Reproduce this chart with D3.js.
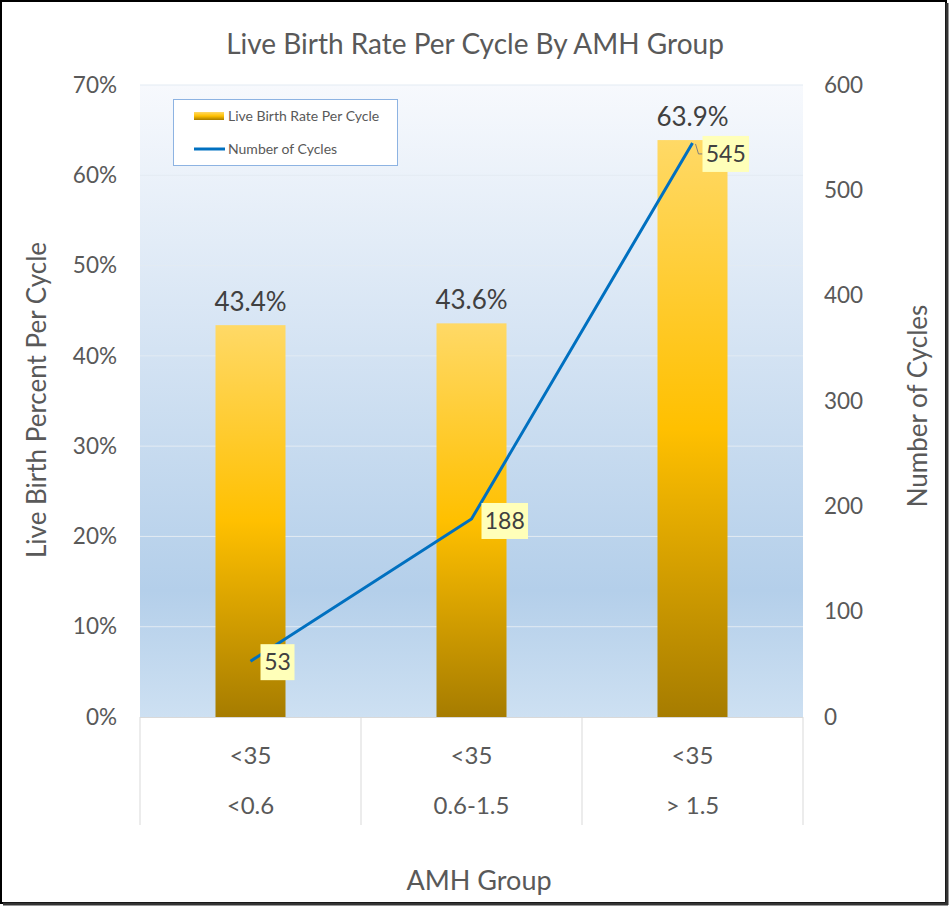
<!DOCTYPE html>
<html><head><meta charset="utf-8">
<script src="https://cdn.jsdelivr.net/npm/d3@7"></script>
<style>body{margin:0;background:#fff}svg{display:block}text{font-family:Lato,"Open Sans",sans-serif}</style>
</head><body><svg id="c" width="950" height="907"></svg>
<script>
const ageGroups = ["<35", "<35", "<35"];
const amhGroups = ["<0.6", "0.6-1.5", "> 1.5"];
const liveBirthRate = [43.4, 43.6, 63.9];
const numCycles = [53, 188, 545];
const leftTicks = [0,10,20,30,40,50,60,70];
const rightTicks = [0,100,200,300,400,500,600];

const svg = d3.select("#c");
const W = 950, H = 907;
const m = {l:140, r:803, t:85, b:717};
const grey = "#595959";

// frame
svg.append("rect").attr("x",1).attr("y",1).attr("width",W-5).attr("height",H-5).attr("fill","#fff").attr("stroke","#000").attr("stroke-width",2);
svg.append("line").attr("x1",W-3).attr("x2",W-3).attr("y1",3).attr("y2",H-2).attr("stroke","#333").attr("stroke-width",3);
svg.append("line").attr("x1",3).attr("x2",W-2).attr("y1",H-3).attr("y2",H-3).attr("stroke","#333").attr("stroke-width",3);

const defs = svg.append("defs");
const bg = defs.append("linearGradient").attr("id","bg").attr("x1",0).attr("x2",0).attr("y1",0).attr("y2",1);
bg.append("stop").attr("offset","0%").attr("stop-color","#f7f9fd");
bg.append("stop").attr("offset","80%").attr("stop-color","#b4cfea");
bg.append("stop").attr("offset","100%").attr("stop-color","#cde0f2");
const bgr = defs.append("linearGradient").attr("id","bar").attr("x1",0).attr("x2",0).attr("y1",0).attr("y2",1);
bgr.append("stop").attr("offset","0%").attr("stop-color","#ffd966");
bgr.append("stop").attr("offset","50%").attr("stop-color","#ffc000");
bgr.append("stop").attr("offset","100%").attr("stop-color","#a67c00");

const x = d3.scaleBand().domain(d3.range(amhGroups.length)).range([m.l, m.r]);
const yL = d3.scaleLinear().domain([0,70]).range([m.b, m.t]);
const yR = d3.scaleLinear().domain([0,600]).range([m.b, m.t]);

svg.append("rect").attr("x",m.l).attr("y",m.t).attr("width",m.r-m.l).attr("height",m.b-m.t).attr("fill","url(#bg)");

// gridlines
svg.append("g").selectAll("line").data(leftTicks.slice(1)).join("line")
  .attr("x1",m.l).attr("x2",m.r).attr("y1",d=>yL(d)).attr("y2",d=>yL(d))
  .attr("stroke","#e3ebf3").attr("stroke-width",1);

// left axis
const la = svg.append("g").attr("transform",`translate(${m.l},0)`)
  .call(d3.axisLeft(yL).tickValues(leftTicks).tickFormat(d=>d+"%").tickSize(0).tickPadding(23));
la.select(".domain").remove();
la.selectAll("text").attr("fill",grey).attr("font-size",22.5);
// right axis
const ra = svg.append("g").attr("transform",`translate(${m.r},0)`)
  .call(d3.axisRight(yR).tickValues(rightTicks).tickSize(0).tickPadding(21));
ra.select(".domain").remove();
ra.selectAll("text").attr("fill",grey).attr("font-size",22.5);

// category area
const cat = svg.append("g");
cat.append("line").attr("x1",m.l).attr("x2",m.r).attr("y1",m.b+0.5).attr("y2",m.b+0.5).attr("stroke","#d9d9d9");
cat.selectAll(".div").data(d3.range(amhGroups.length+1)).join("line")
  .attr("x1",d=>m.l+d*x.step()).attr("x2",d=>m.l+d*x.step())
  .attr("y1",m.b).attr("y2",825).attr("stroke","#d9d9d9");
cat.selectAll(".age").data(ageGroups).join("text")
  .attr("x",(d,i)=>x(i)+x.bandwidth()/2).attr("y",764).attr("text-anchor","middle")
  .attr("fill",grey).attr("font-size",24).text(d=>d);
cat.selectAll(".amh").data(amhGroups).join("text")
  .attr("x",(d,i)=>x(i)+x.bandwidth()/2).attr("y",814).attr("text-anchor","middle")
  .attr("fill",grey).attr("font-size",24).text(d=>d);

// bars
const bw = 70;
svg.append("g").selectAll("rect").data(liveBirthRate).join("rect")
  .attr("x",(d,i)=>x(i)+x.bandwidth()/2-bw/2).attr("width",bw)
  .attr("y",d=>yL(d)).attr("height",d=>m.b-yL(d)).attr("fill","url(#bar)");
svg.append("g").selectAll("text").data(liveBirthRate).join("text")
  .attr("x",(d,i)=>x(i)+x.bandwidth()/2).attr("y",d=>yL(d)-14)
  .attr("text-anchor","middle").attr("fill","#404040").attr("font-size",26).text(d=>d.toFixed(1)+"%");

// line
const px = i=>x(i)+x.bandwidth()/2;
svg.append("path").datum(numCycles)
  .attr("d", d3.line().x((d,i)=>px(i)).y(d=>yR(d)))
  .attr("fill","none").attr("stroke","#0070c0").attr("stroke-width",3);

// number labels
const labDy = [1, 2, 11];
const lg = svg.append("g");
numCycles.forEach((d,i)=>{
  const cx = px(i), cy = yR(d);
  const t = String(d);
  const w = 12.5*t.length+9, h = 36;
  const bx = cx+10, by = cy+labDy[i]-h/2;
  if (i===2) {
    lg.append("path").attr("d",`M${cx+3},${cy+1}L${cx+6},${cy+11}L${bx},${cy+11}`).attr("fill","none").attr("stroke","#7f7f7f").attr("stroke-width",1);
  }
  lg.append("rect").attr("x",bx).attr("y",by).attr("width",w).attr("height",h).attr("fill","#ffffb9");
  lg.append("text").attr("x",bx+w/2).attr("y",by+h/2+8).attr("text-anchor","middle")
    .attr("fill","#404040").attr("font-size",23).text(t);
});

// legend
const L = svg.append("g");
L.append("rect").attr("x",173.5).attr("y",99.5).attr("width",224).attr("height",66).attr("fill","#fff").attr("stroke","#8db3e2");
L.append("rect").attr("x",194).attr("y",112).attr("width",30).attr("height",8).attr("fill","url(#bar)");
L.append("text").attr("x",228).attr("y",121).attr("font-size",14).attr("fill",grey).text("Live Birth Rate Per Cycle");
L.append("line").attr("x1",194).attr("x2",225).attr("y1",149).attr("y2",149).attr("stroke","#0070c0").attr("stroke-width",3);
L.append("text").attr("x",228).attr("y",154).attr("font-size",14).attr("fill",grey).text("Number of Cycles");

// titles
svg.append("text").attr("x",475).attr("y",54).attr("text-anchor","middle").attr("font-size",28).attr("fill",grey).text("Live Birth Rate Per Cycle By AMH Group");
svg.append("text").attr("transform","translate(46,400) rotate(-90)").attr("text-anchor","middle").attr("font-size",26).attr("fill",grey).text("Live Birth Percent Per Cycle");
svg.append("text").attr("transform","translate(927,406) rotate(-90)").attr("text-anchor","middle").attr("font-size",26).attr("fill",grey).text("Number of Cycles");
svg.append("text").attr("x",479).attr("y",890).attr("text-anchor","middle").attr("font-size",27).attr("fill",grey).text("AMH Group");
</script></body></html>
